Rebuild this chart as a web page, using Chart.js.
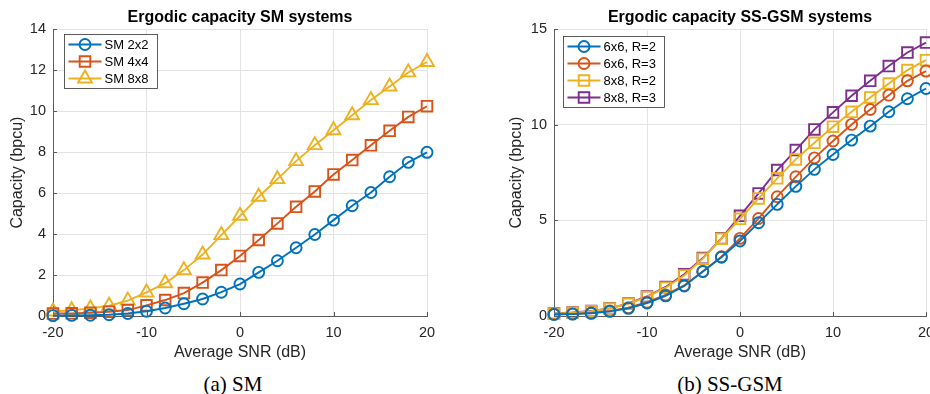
<!DOCTYPE html>
<html>
<head>
<meta charset="utf-8">
<script src="https://cdn.jsdelivr.net/npm/chart.js@4.4.1/dist/chart.umd.min.js"></script>
<style>
  html, body { margin: 0; padding: 0; background: #fff; width: 930px; height: 394px; overflow: hidden; }
  .box { position: absolute; top: 0; height: 370px; }
  #boxA { left: 0; width: 465px; }
  #boxB { left: 465px; width: 520px; }
  .cap { position: absolute; top: 371px; width: 200px; line-height: 26px; text-align: center;
         font-family: "Liberation Serif", "Times New Roman", serif; font-size: 21px; color: #000; }
</style>
</head>
<body>
<div class="box" id="boxA"><canvas id="chartA"></canvas></div>
<div class="box" id="boxB"><canvas id="chartB"></canvas></div>
<div class="cap" style="left:133px">(a) SM</div>
<div class="cap" style="left:630px">(b) SS-GSM</div>

<script>
// x values (average SNR in dB), shared by every curve
const snrDb = [-20, -18, -16, -14, -12, -10, -8, -6, -4, -2, 0, 2, 4, 6, 8, 10, 12, 14, 16, 18, 20];

// (a) SM
const sm2x2 = [0.02, 0.03, 0.04, 0.06, 0.12, 0.23, 0.39, 0.6, 0.83, 1.16, 1.56, 2.13, 2.7, 3.33, 3.98, 4.68, 5.38, 6.03, 6.8, 7.5, 7.99];
const sm4x4 = [0.12, 0.13, 0.16, 0.21, 0.29, 0.52, 0.78, 1.12, 1.63, 2.24, 2.93, 3.71, 4.52, 5.33, 6.08, 6.91, 7.61, 8.33, 9.04, 9.72, 10.24];
const sm8x8 = [0.22, 0.28, 0.37, 0.5, 0.75, 1.15, 1.6, 2.24, 3.0, 3.95, 4.89, 5.82, 6.68, 7.56, 8.34, 9.07, 9.8, 10.54, 11.2, 11.89, 12.4];

// (b) SS-GSM
const gsm6R2 = [0.08, 0.1, 0.14, 0.24, 0.4, 0.68, 1.05, 1.57, 2.33, 3.07, 3.92, 4.88, 5.84, 6.78, 7.67, 8.45, 9.2, 9.93, 10.68, 11.36, 11.9];
const gsm6R3 = [0.09, 0.11, 0.16, 0.27, 0.43, 0.72, 1.1, 1.6, 2.33, 3.1, 4.06, 5.1, 6.24, 7.28, 8.27, 9.15, 10.02, 10.8, 11.55, 12.3, 12.81];
const gsm8R2 = [0.12, 0.17, 0.25, 0.39, 0.64, 1.0, 1.48, 2.12, 3.0, 4.04, 5.08, 6.15, 7.2, 8.19, 9.06, 9.9, 10.68, 11.43, 12.16, 12.86, 13.38];
const gsm8R3 = [0.13, 0.18, 0.26, 0.4, 0.66, 1.02, 1.52, 2.18, 3.03, 4.06, 5.24, 6.41, 7.63, 8.68, 9.76, 10.65, 11.52, 12.3, 13.07, 13.78, 14.3];

const xTicksStep = 10;
const yMaxA = 14, yStepA = 2;
const yMaxB = 15, yStepB = 5;

const BLUE = "#0072BD", ORANGE = "#D95319", YELLOW = "#EDB120", PURPLE = "#7E2F8E";
const AXIS = "#5a5a5a", TEXT = "#262626", GRID = "#e3e3e3";
const SANS = '"Liberation Sans", Arial, sans-serif';
const LW = 1.9;

Chart.defaults.font.family = SANS;

function series(label, values, color, style) {
    const r = style === "circle" ? 5.5 : style === "rect" ? 7.5 : 8;
    return {
        label: label,
        data: snrDb.map((x, i) => ({ x: x, y: values[i] })),
        borderColor: color,
        backgroundColor: "rgba(0,0,0,0)",
        borderWidth: LW,
        pointStyle: style,
        pointRadius: r,
        pointHoverRadius: r,
        pointBorderWidth: LW,
        pointBorderColor: color,
        pointBackgroundColor: "rgba(0,0,0,0)",
        tension: 0,
        clip: false
    };
}

function marker(ctx, style, x, y, r) {
    ctx.beginPath();
    if (style === "circle") {
        ctx.arc(x, y, r, 0, Math.PI * 2);
    } else if (style === "rect") {
        const s = r * Math.SQRT1_2;
        ctx.rect(x - s, y - s, 2 * s, 2 * s);
    } else {
        ctx.moveTo(x, y - r);
        ctx.lineTo(x + r * Math.sin(2 * Math.PI / 3), y - r * Math.cos(2 * Math.PI / 3));
        ctx.lineTo(x + r * Math.sin(4 * Math.PI / 3), y - r * Math.cos(4 * Math.PI / 3));
        ctx.closePath();
    }
    ctx.stroke();
}

// MATLAB style: short tick marks pointing into the plot
const innerTicks = {
    id: "innerTicks",
    beforeDatasetsDraw(chart) {
        const { ctx, chartArea: a, scales: { x, y } } = chart;
        ctx.save();
        ctx.strokeStyle = AXIS;
        ctx.lineWidth = 1;
        ctx.beginPath();
        x.ticks.forEach(t => {
            const px = Math.round(x.getPixelForValue(t.value)) + 0.5;
            ctx.moveTo(px, a.bottom);
            ctx.lineTo(px, a.bottom - 4);
        });
        y.ticks.forEach(t => {
            const py = Math.round(y.getPixelForValue(t.value)) + 0.5;
            ctx.moveTo(a.left, py);
            ctx.lineTo(a.left + 4, py);
        });
        ctx.stroke();
        ctx.restore();
    }
};

// legend box drawn inside the plot, top-left
const insideLegend = {
    id: "insideLegend",
    afterDraw(chart, args, opts) {
        const { ctx, chartArea: a } = chart;
        const sets = chart.data.datasets;
        ctx.save();
        ctx.font = "13px " + SANS;
        let tw = 0;
        sets.forEach(d => { tw = Math.max(tw, ctx.measureText(d.label).width); });
        const bx = Math.round(a.left + opts.dx) + 0.5;
        const by = Math.round(a.top + opts.dy) + 0.5;
        const bw = Math.round(40 + tw + 9);
        const bh = Math.round(20 + (sets.length - 1) * 17);
        ctx.fillStyle = "#fff";
        ctx.fillRect(bx, by, bw, bh);
        ctx.strokeStyle = "#333";
        ctx.lineWidth = 0.8;
        ctx.strokeRect(bx, by, bw, bh);
        sets.forEach((d, i) => {
            const cy = by + 10 + i * 17;
            ctx.strokeStyle = d.borderColor;
            ctx.lineWidth = LW;
            ctx.beginPath();
            ctx.moveTo(bx + 4, cy);
            ctx.lineTo(bx + 37, cy);
            ctx.stroke();
            marker(ctx, d.pointStyle, bx + 20.5, cy, d.pointRadius);
            ctx.fillStyle = "#000";
            ctx.textBaseline = "middle";
            ctx.textAlign = "left";
            ctx.fillText(d.label, bx + 40, cy + 0.5);
        });
        ctx.restore();
    }
};

function makeChart(id, title, datasets, yMax, yStep, pad, yWidth, legendPos) {
    return new Chart(document.getElementById(id), {
        type: "line",
        data: { datasets: datasets },
        plugins: [innerTicks, insideLegend],
        options: {
            responsive: true,
            maintainAspectRatio: false,
            animation: false,
            events: [],
            layout: { padding: pad },
            plugins: {
                legend: { display: false },
                tooltip: { enabled: false },
                title: {
                    display: true,
                    text: title,
                    fullSize: false,
                    color: "#000",
                    font: { size: 16, weight: "bold" },
                    padding: { top: 8, bottom: 2 }
                },
                insideLegend: legendPos
            },
            scales: {
                x: {
                    type: "linear",
                    min: -20,
                    max: 20,
                    ticks: { stepSize: xTicksStep, padding: 8, color: TEXT, font: { size: 14.5 } },
                    grid: { color: GRID, drawTicks: false },
                    border: { color: AXIS, width: 1 },
                    title: { display: true, text: "Average SNR (dB)", color: TEXT, font: { size: 16 }, padding: { top: 4, bottom: 4 } },
                    afterFit: s => { s.height = 50; }
                },
                y: {
                    min: 0,
                    max: yMax,
                    ticks: { stepSize: yStep, padding: 7, color: TEXT, font: { size: 14.5 } },
                    grid: { color: GRID, drawTicks: false },
                    border: { color: AXIS, width: 1 },
                    title: { display: true, text: "Capacity (bpcu)", color: TEXT, font: { size: 16 }, padding: { top: 4, bottom: 4 } },
                    afterFit: s => { s.width = yWidth; }
                }
            }
        }
    });
}

makeChart("chartA", "Ergodic capacity SM systems", [
    series("SM 2x2", sm2x2, BLUE, "circle"),
    series("SM 4x4", sm4x4, ORANGE, "rect"),
    series("SM 8x8", sm8x8, YELLOW, "triangle")
], yMaxA, yStepA, { left: 4, right: 38, top: 0, bottom: 4 }, 49, { dx: 11, dy: 5 });

makeChart("chartB", "Ergodic capacity SS-GSM systems", [
    series("6x6, R=2", gsm6R2, BLUE, "circle"),
    series("6x6, R=3", gsm6R3, ORANGE, "circle"),
    series("8x8, R=2", gsm8R2, YELLOW, "rect"),
    series("8x8, R=3", gsm8R3, PURPLE, "rect")
], yMaxB, yStepB, { left: 38, right: 59, top: 0, bottom: 4 }, 51, { dx: 9, dy: 6.5 });
</script>
</body>
</html>
